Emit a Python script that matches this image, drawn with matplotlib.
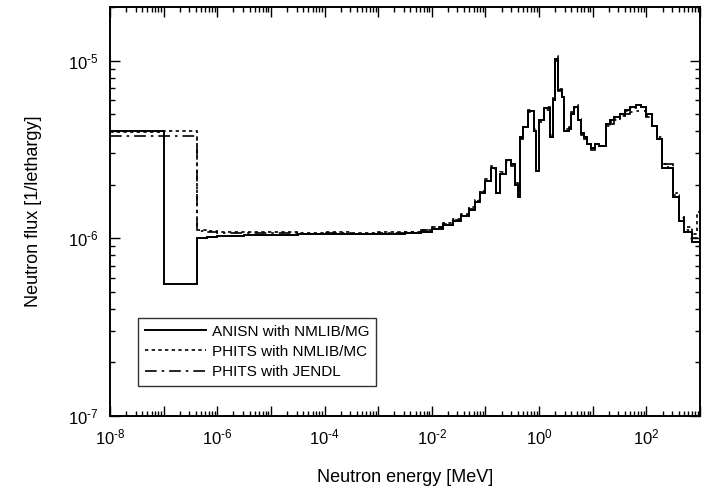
import matplotlib
matplotlib.use('Agg')
import matplotlib.pyplot as plt
import numpy as np
from matplotlib.ticker import LogLocator, FuncFormatter, NullFormatter

# ---- data ----
# bin edges, log10(E / MeV)
edges_log = [-8.0, -7.0, -6.38, -6.2, -6.0, -5.5, -5.0, -4.5, -4.0, -3.5,
             -3.0, -2.5, -2.2, -2.0, -1.8, -1.6, -1.45, -1.3, -1.2, -1.1,
             -1.0, -0.9, -0.8, -0.72, -0.62, -0.52, -0.45, -0.4, -0.35, -0.3,
             -0.2, -0.1, -0.05, 0.0, 0.1, 0.2, 0.25, 0.3, 0.36, 0.42,
             0.47, 0.55, 0.6, 0.66, 0.72, 0.78, 0.84, 0.9, 0.96, 1.04,
             1.12, 1.25, 1.32, 1.4, 1.5, 1.6, 1.7, 1.8, 1.9, 2.0,
             2.1, 2.2, 2.3, 2.4, 2.5, 2.6, 2.7, 2.85, 2.95, 3.0]

# flux per lethargy, units of 1e-6
anisn_nmlib_mg = [4.0, 0.55, 1.00, 1.02, 1.03, 1.04, 1.04, 1.05, 1.05, 1.05,
                  1.06, 1.07, 1.09, 1.13, 1.18, 1.25, 1.33, 1.45, 1.6, 1.8,
                  2.1, 2.5, 1.8, 2.3, 2.75, 2.6, 2.0, 1.7, 3.7, 4.2,
                  5.2, 4.0, 2.4, 4.6, 5.4, 3.7, 6.0, 10.2, 6.8, 6.2,
                  4.0, 4.1, 5.0, 5.5, 4.6, 3.9, 3.7, 3.4, 3.2, 3.4,
                  3.3, 4.4, 4.6, 4.8, 5.0, 5.3, 5.5, 5.6, 5.5, 5.0,
                  4.3, 3.6, 2.5, 2.5, 1.7, 1.25, 1.08, 0.95, 0.95]

phits_nmlib_mc = [3.95, 4.0, 1.12, 1.10, 1.09, 1.08, 1.08, 1.07, 1.08, 1.07,
                  1.08, 1.09, 1.12, 1.16, 1.22, 1.28, 1.37, 1.5, 1.65, 1.85,
                  2.15, 2.45, 1.85, 2.35, 2.7, 2.6, 2.05, 1.75, 3.6, 4.2,
                  5.1, 4.0, 2.5, 4.5, 5.3, 3.8, 6.1, 10.0, 6.9, 6.1,
                  4.1, 4.1, 5.0, 5.4, 4.7, 3.9, 3.7, 3.4, 3.2, 3.4,
                  3.3, 4.3, 4.5, 4.7, 4.9, 5.2, 5.4, 5.5, 5.45, 4.9,
                  4.3, 3.6, 2.6, 2.5, 1.75, 1.3, 1.15, 1.05, 1.4]

phits_jendl = [3.75, 3.75, 1.10, 1.08, 1.07, 1.07, 1.07, 1.06, 1.07, 1.06,
               1.07, 1.08, 1.11, 1.15, 1.2, 1.27, 1.35, 1.47, 1.62, 1.82,
               2.1, 2.55, 1.8, 2.3, 2.7, 2.55, 2.0, 1.7, 3.65, 4.3,
               5.3, 4.1, 2.4, 4.7, 5.5, 3.7, 6.2, 10.6, 6.7, 6.3,
               4.0, 4.2, 5.1, 5.6, 4.6, 3.8, 3.6, 3.4, 3.15, 3.35,
               3.3, 4.2, 4.4, 4.6, 4.8, 5.0, 5.1, 5.2, 5.2, 4.8,
               4.3, 3.7, 2.6, 2.6, 1.8, 1.35, 1.12, 1.0, 1.0]

series_labels = ['ANISN with NMLIB/MG', 'PHITS with NMLIB/MC', 'PHITS with JENDL']

# ---- style ----
plt.rcParams['font.family'] = ['Liberation Sans', 'DejaVu Sans']
plt.rcParams['mathtext.fontset'] = 'custom'
plt.rcParams['mathtext.rm'] = 'Liberation Sans'
plt.rcParams['mathtext.it'] = 'Liberation Sans:italic'
plt.rcParams['mathtext.bf'] = 'Liberation Sans:bold'

fig = plt.figure(figsize=(7.06, 4.95), dpi=100)
ax = fig.add_axes([110 / 706, 1 - 416 / 495, 590 / 706, 409 / 495])

edges = 10 ** np.array(edges_log)
scale = 1e-6
ax.stairs(np.array(anisn_nmlib_mg) * scale, edges, baseline=None,
          color='black', lw=1.4, label=series_labels[0])
ax.stairs(np.array(phits_nmlib_mc) * scale, edges, baseline=None,
          color='black', lw=1.2, linestyle=(0, (2, 2)), label=series_labels[1])
ax.stairs(np.array(phits_jendl) * scale, edges, baseline=None,
          color='black', lw=1.2, linestyle=(0, (7, 3, 1.5, 3)), label=series_labels[2])

ax.set_xscale('log')
ax.set_yscale('log')
ax.set_xlim(1e-8, 1e3)
ax.set_ylim(1e-7, 2e-5)


def sci(e):
    if e < 0:
        return r'$10^{\text{-%d}}$' % (-e)
    return r'$10^{%d}$' % e


def xfmt(v, _):
    e = int(round(np.log10(v)))
    if e % 2 != 0:
        return ''
    return sci(e)


def yfmt(v, _):
    return sci(int(round(np.log10(v))))


ax.xaxis.set_major_locator(LogLocator(base=10, numticks=30))
ax.xaxis.set_major_formatter(FuncFormatter(xfmt))
ax.xaxis.set_minor_locator(LogLocator(base=10, subs=np.arange(2, 10), numticks=200))
ax.xaxis.set_minor_formatter(NullFormatter())
ax.yaxis.set_major_locator(LogLocator(base=10, numticks=30))
ax.yaxis.set_major_formatter(FuncFormatter(yfmt))
ax.yaxis.set_minor_locator(LogLocator(base=10, subs=np.arange(2, 10), numticks=200))
ax.yaxis.set_minor_formatter(NullFormatter())

ax.tick_params(which='both', direction='in', top=True, right=True, width=1.0,
               labelsize=12)
ax.tick_params(which='major', length=7, pad=8)
ax.tick_params(which='minor', length=3.5)
for s in ax.spines.values():
    s.set_linewidth(1.4)

ax.set_xlabel('Neutron energy [MeV]', fontsize=13, labelpad=16)
ax.set_ylabel('Neutron flux [1/lethargy]', fontsize=13, labelpad=19)

leg = ax.legend(loc='upper left', bbox_to_anchor=(0.047, 0.24), borderaxespad=0,
                fontsize=11, frameon=True, fancybox=False, handlelength=4.0,
                labelspacing=0.4, handletextpad=0.4, borderpad=0.45)
leg.get_frame().set_edgecolor('black')
leg.get_frame().set_linewidth(1.0)
for h in leg.get_lines():
    h.set_color('black')

fig.savefig('out.png', dpi=100)
